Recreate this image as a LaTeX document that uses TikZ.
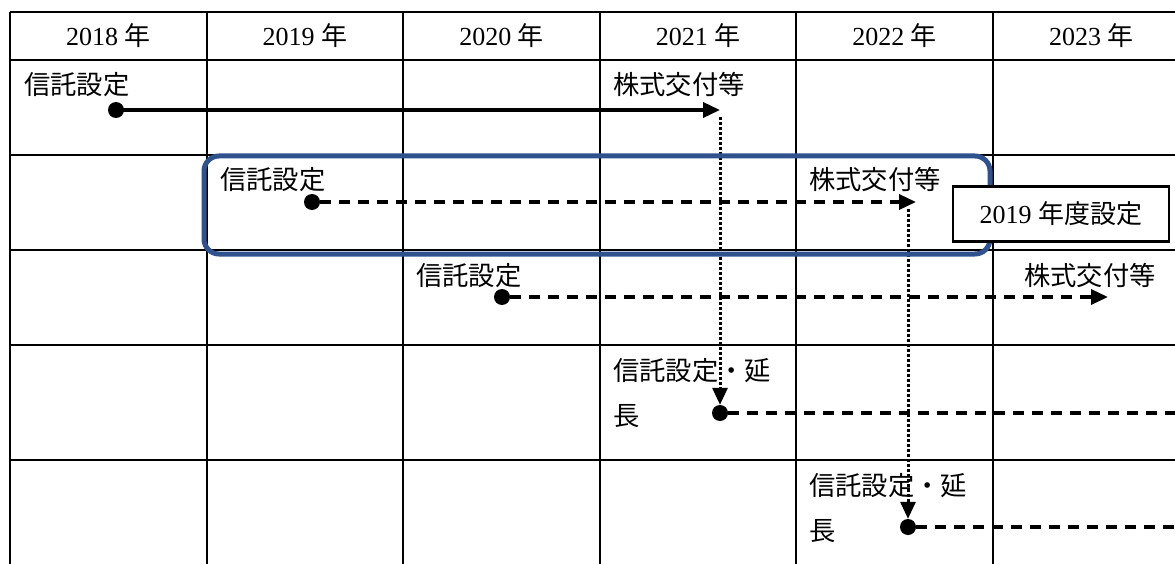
\documentclass[tikz,border=0pt]{standalone}
\usepackage{fontspec}
\setmainfont{Liberation Serif}
\newfontfamily\jp{Noto Sans CJK JP}
\usetikzlibrary{arrows.meta}
\definecolor{frameblue}{HTML}{2F528F}
\tikzset{
  gridline/.style={line width=2pt, black},
  hdr/.style={anchor=base, inner sep=0pt, font=\fontsize{26}{30}\selectfont},
  lbl/.style={anchor=base west, inner sep=0pt, align=left, font=\jp\fontsize{26.3}{45}\selectfont},
  dot/.style={circle, fill=black, inner sep=0pt, minimum size=16pt},
  solidarrow/.style={line width=3.5pt, -{Triangle[length=17pt,width=15pt]}},
  dasharrow/.style={line width=3.4pt, dash pattern=on 11pt off 8pt, -{Triangle[length=17pt,width=15pt]}},
  dashline/.style={line width=3.4pt, dash pattern=on 11pt off 8pt},
  dotarrow/.style={line width=3pt, dash pattern=on 3pt off 2pt, -{Triangle[length=17pt,width=15pt]}},
  bluebox/.style={draw=frameblue, line width=5pt, rounded corners=15pt},
  tagbox/.style={draw, line width=2.6pt, fill=white, minimum width=216pt, minimum height=55pt, inner sep=0pt, font=\fontsize{26}{30}\selectfont}
}
\begin{document}
\begin{tikzpicture}[x=1pt, y=-1pt]
\useasboundingbox (0,0) rectangle (1175,564);
\fill[white] (0,0) rectangle (1175,564);
% grid
\foreach \yy in {12,60,155,250,345,460}
  \draw[gridline] (10,\yy) -- (1176,\yy);
\foreach \xx in {10,206.6,403.2,599.8,796.4,993}
  \draw[gridline] (\xx,12) -- (\xx,565);
% header
\node[hdr] (h1) at (108.3,46) {2018 {\jp 年}};
\node[hdr] (h2) at (304.9,46) {2019 {\jp 年}};
\node[hdr] (h3) at (501.5,46) {2020 {\jp 年}};
\node[hdr] (h4) at (698.1,46) {2021 {\jp 年}};
\node[hdr] (h5) at (894.7,46) {2022 {\jp 年}};
\node[hdr] (h6) at (1091.3,46) {2023 {\jp 年}};
% labels
\node[lbl] (s1) at (24,95) {信託設定};
\node[lbl] (k1) at (613,95) {株式交付等};
\node[lbl] (s2) at (220,190) {信託設定};
\node[lbl] (k2) at (809,190) {株式交付等};
\node[lbl] (s3) at (416,285) {信託設定};
\node[lbl] (k3) at (1024,285) {株式交付等};
\node[lbl] (s4) at (613,425) {信託設定・延\\長};
\node[lbl] (s5) at (809,540) {信託設定・延\\長};
% dots
\node[dot] (d1) at (116,110) {};
\node[dot] (d2) at (312,202) {};
\node[dot] (d3) at (502,297) {};
\node[dot] (d4) at (720,413) {};
\node[dot] (d5) at (908,527) {};
% end points
\coordinate (e1) at (720,110);
\coordinate (e2) at (916,202);
\coordinate (e3) at (1108,297);
\coordinate (e4) at (1176,413);
\coordinate (e5) at (1176,527);
\coordinate (v1) at (720,117);
\coordinate (v2) at (908,209);
% connectors
\draw[solidarrow] (d1.center) -- (e1);
\draw[dasharrow] (d2.east) -- (e2);
\draw[dasharrow] (d3.east) -- (e3);
\draw[dashline] (d4.east) -- (e4);
\draw[dashline] (d5.east) -- (e5);
\draw[dotarrow] (v1) -- (d4.north);
\draw[dotarrow] (v2) -- (d5.north);
% highlight frame
\draw[bluebox] (204,156) rectangle (990,254);
\node[tagbox] (tag) at (1060.8,213.8) {2019 {\jp 年度設定}};
\end{tikzpicture}
\end{document}
